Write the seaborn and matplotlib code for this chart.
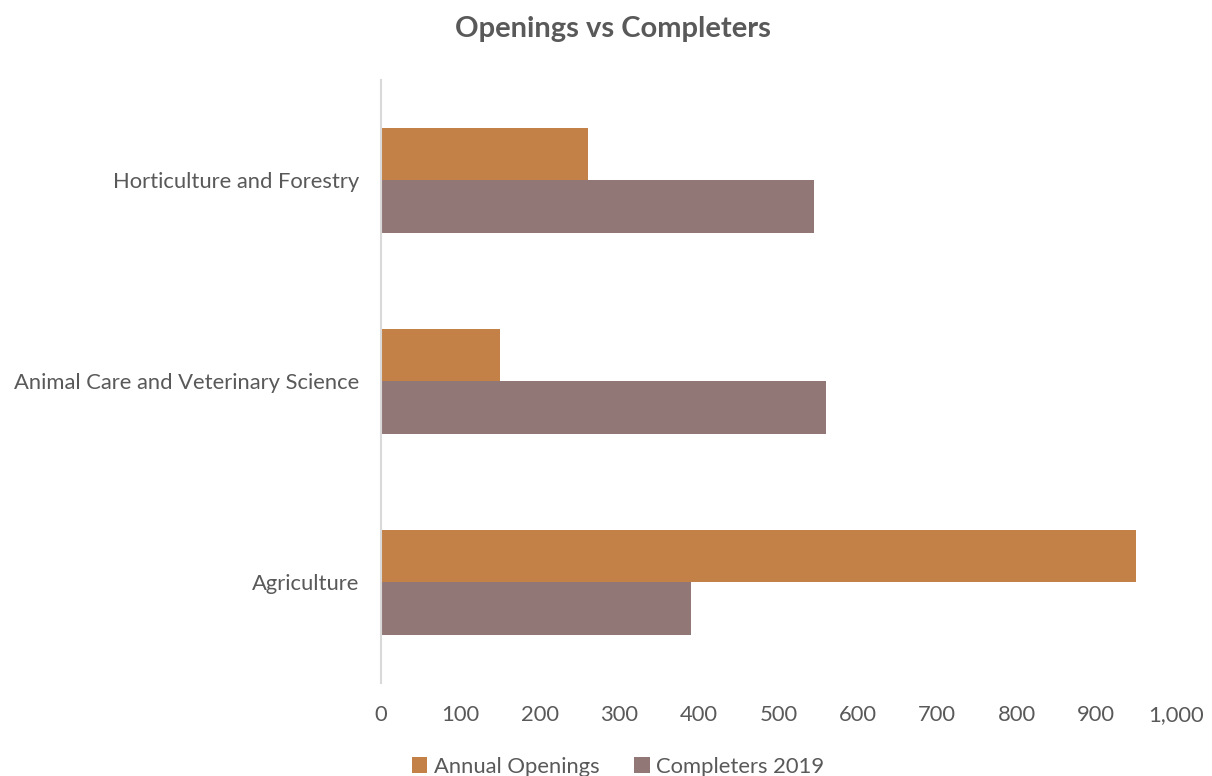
import matplotlib
matplotlib.use("Agg")
import matplotlib.pyplot as plt
import seaborn as sns
import pandas as pd
from matplotlib.ticker import FuncFormatter

categories = ["Horticulture and Forestry", "Animal Care and Veterinary Science", "Agriculture"]
annual_openings = [260, 150, 950]
completers_2019 = [545, 560, 390]
series_names = ["Annual Openings", "Completers 2019"]
x_ticks = [0, 100, 200, 300, 400, 500, 600, 700, 800, 900, 1000]

df = pd.DataFrame({
    "Category": categories * 2,
    "Value": annual_openings + completers_2019,
    "Series": [series_names[0]] * 3 + [series_names[1]] * 3,
})

sns.set_style("white")
plt.rcParams["font.family"] = ["Lato", "DejaVu Sans"]

text_color = "#595959"
palette = {series_names[0]: "#C38147", series_names[1]: "#917877"}

fig = plt.figure(figsize=(12.12, 7.76), dpi=100)
ax = fig.add_axes([0.3145, 0.12, 0.6555, 0.777])

sns.barplot(data=df, y="Category", x="Value", hue="Series", order=categories,
            hue_order=series_names, palette=palette, width=0.52, saturation=1,
            orient="h", ax=ax, legend=True, linewidth=0)

ax.set_xlim(0, 1000)
ax.set_ylim(2.5, -0.5)
ax.set_xticks(x_ticks)
ax.xaxis.set_major_formatter(FuncFormatter(lambda v, p: f"{int(v):,}"))
ax.set_xlabel("")
ax.set_ylabel("")
ax.tick_params(axis="both", length=0, labelsize=15.8, colors=text_color)
ax.tick_params(axis="x", pad=16)
ax.tick_params(axis="y", pad=16)

for side in ["top", "right", "bottom"]:
    ax.spines[side].set_visible(False)
ax.spines["left"].set_color("#D9D9D9")
ax.spines["left"].set_linewidth(1.5)

fig.suptitle("Openings vs Completers", x=0.506, y=0.98, fontsize=21,
             fontweight="bold", color=text_color)

handles, labels = ax.get_legend_handles_labels()
ax.get_legend().remove()
fig.legend(handles, labels, loc="center", bbox_to_anchor=(0.51, 0.012), ncol=2,
           frameon=False, fontsize=15.8, labelcolor=text_color, handlelength=0.7,
           handleheight=0.7, handletextpad=0.3, columnspacing=1.6)

fig.savefig("out.png", dpi=100)
